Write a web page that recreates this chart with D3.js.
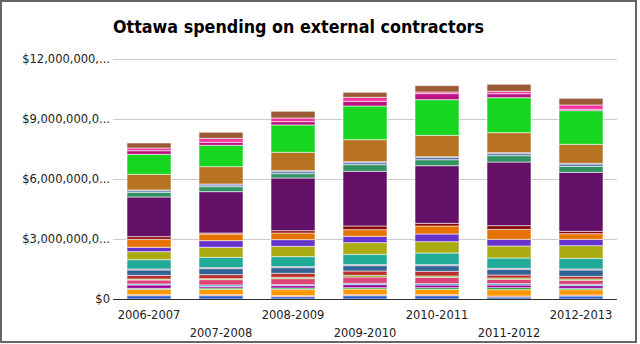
<!DOCTYPE html>
<html>
<head>
<meta charset="utf-8">
<script src="https://cdn.jsdelivr.net/npm/d3@7"></script>
<style>
	body { margin: 0; background: #fff; }
	svg { display: block; }
</style>
</head>
<body>
<script>
(function(){

	// fiscal years on the x axis
	var years = ['2006-2007', '2007-2008', '2008-2009', '2009-2010', '2010-2011', '2011-2012', '2012-2013'];

	// y axis tick values (thousands of dollars) and their (truncated) labels
	var tickValues = [0, 3000, 6000, 9000, 12000];
	var tickLabels = ['$0', '$3,000,000,0...', '$6,000,000,0...', '$9,000,000,0...', '$12,000,000,...'];

	// stacked series colours, bottom to top
	var colors = ['#3366cc', '#dc3912', '#ff9900', '#109618', '#990099', '#0099c6', '#dd4477', '#66aa00',
		'#b82e2e', '#316395', '#994499', '#22aa99', '#aaaa11', '#6633cc', '#e67300', '#8b0707',
		'#651067', '#329262', '#5574a6', '#3b3eac', '#b77322', '#16d620', '#b91383', '#f4359e', '#9c5935'];

	// spending per series per year, thousands of dollars (one row per series, bottom to top)
	var values = [
		[167, 167, 117, 167, 167, 100, 150],
		[50, 50, 50, 50, 50, 50, 50],
		[267, 267, 317, 283, 267, 317, 267],
		[50, 67, 67, 67, 83, 100, 67],
		[167, 83, 117, 150, 133, 133, 133],
		[50, 67, 50, 67, 67, 67, 67],
		[200, 267, 300, 317, 317, 217, 200],
		[50, 50, 67, 83, 67, 67, 67],
		[183, 200, 200, 217, 233, 150, 133],
		[267, 300, 283, 267, 283, 283, 317],
		[50, 50, 50, 50, 50, 50, 50],
		[467, 517, 500, 517, 583, 517, 533],
		[400, 500, 517, 583, 567, 600, 633],
		[217, 333, 333, 317, 383, 333, 317],
		[400, 333, 333, 333, 400, 500, 283],
		[133, 50, 117, 183, 133, 183, 117],
		[1983, 2067, 2633, 2733, 2883, 3183, 2950],
		[233, 250, 217, 333, 300, 317, 300],
		[83, 83, 100, 100, 117, 100, 117],
		[33, 50, 50, 50, 33, 50, 33],
		[783, 867, 917, 1100, 1067, 1000, 950],
		[1000, 1067, 1367, 1683, 1783, 1750, 1683],
		[183, 150, 167, 233, 300, 200, 67],
		[133, 200, 183, 200, 83, 117, 217],
		[250, 300, 333, 250, 317, 350, 333]
	];

	var width = 640, height = 344;
	var left = 113, right = 617, top = 59, bottom = 299;

	var svg = d3.select('body')
				.append('svg')
				.attr('width', width)
				.attr('height', height);

	// outer frame
	svg.append('rect')
		.attr('x', 1).attr('y', 1)
		.attr('width', 635).attr('height', 341)
		.attr('fill', '#fff')
		.attr('stroke', '#666')
		.attr('stroke-width', 2);

	// title
	svg.append('text')
		.attr('x', left)
		.attr('y', 33)
		.attr('font-family', 'DejaVu Sans, sans-serif')
		.attr('font-weight', 'bold')
		.attr('font-size', 17)
		.attr('textLength', 371)
		.attr('lengthAdjust', 'spacingAndGlyphs')
		.attr('fill', '#000')
		.text('Ottawa spending on external contractors');

	var x = d3.scaleBand()
		.domain(years)
		.range([left, right])
		.paddingInner(0.389)
		.paddingOuter(0.1945);

	var y = d3.scaleLinear()
		.domain([0, 12000])
		.range([bottom, top]);

	// gridlines
	svg.append('g')
		.selectAll('line')
		.data(tickValues.slice(1))
		.enter().append('line')
		.attr('x1', left).attr('x2', right)
		.attr('y1', function(d){ return Math.round(y(d)) + 0.5; })
		.attr('y2', function(d){ return Math.round(y(d)) + 0.5; })
		.attr('stroke', '#cccccc')
		.attr('stroke-width', 1);

	// y axis labels
	var yAxis = d3.axisLeft(y)
		.tickValues(tickValues)
		.tickFormat(function(d, i){ return tickLabels[i]; })
		.tickSize(0)
		.tickPadding(3);

	var yg = svg.append('g')
		.attr('transform', 'translate(' + left + ',0)')
		.call(yAxis);
	yg.select('.domain').remove();
	yg.selectAll('text')
		.attr('font-family', 'DejaVu Sans, sans-serif')
		.attr('font-size', 11.5)
		.attr('fill', '#222');

	// stack the series
	var table = years.map(function(yr, j){
		var row = { year: yr };
		values.forEach(function(s, i){ row['s' + i] = s[j]; });
		return row;
	});
	var keys = values.map(function(s, i){ return 's' + i; });
	var stacked = d3.stack().keys(keys)(table);

	svg.append('g')
		.selectAll('g')
		.data(stacked)
		.enter().append('g')
		.attr('fill', function(d, i){ return colors[i]; })
		.selectAll('rect')
		.data(function(d){ return d; })
		.enter().append('rect')
		.attr('x', function(d){ return x(d.data.year); })
		.attr('width', x.bandwidth())
		.attr('y', function(d){ return y(d[1]); })
		.attr('height', function(d){ return y(d[0]) - y(d[1]); })
		.attr('stroke', '#fff')
		.attr('stroke-opacity', 0.55)
		.attr('stroke-width', 1);

	// baseline
	svg.append('line')
		.attr('x1', left).attr('x2', right)
		.attr('y1', bottom + 0.5).attr('y2', bottom + 0.5)
		.attr('stroke', '#333')
		.attr('stroke-width', 1);

	// x labels, staggered on two rows
	svg.append('g')
		.selectAll('text')
		.data(years)
		.enter().append('text')
		.attr('x', function(d){ return x(d) + x.bandwidth() / 2; })
		.attr('y', function(d, i){ return i % 2 === 0 ? 319 : 337; })
		.attr('text-anchor', 'middle')
		.attr('font-family', 'DejaVu Sans, sans-serif')
		.attr('font-size', 11.5)
		.attr('fill', '#222')
		.text(function(d){ return d; });

})();
</script>
</body>
</html>
